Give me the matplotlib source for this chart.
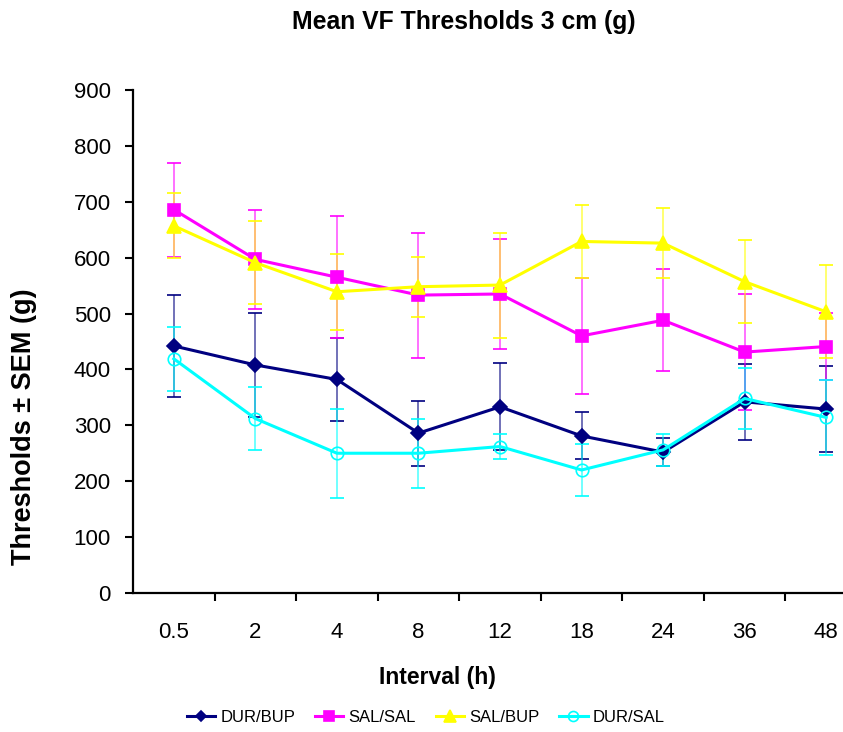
import matplotlib.pyplot as plt
import numpy as np

plt.rcParams['font.family'] = ['Liberation Sans', 'DejaVu Sans']

intervals = ['0.5', '2', '4', '8', '12', '18', '24', '36', '48']

dur_bup = [442, 408, 382, 286, 333, 281, 252, 342, 329]
dur_bup_sem = [92, 93, 75, 58, 78, 42, 25, 68, 77]

sal_sal = [686, 597, 565, 533, 535, 460, 488, 431, 441]
sal_sal_sem = [84, 88, 109, 112, 99, 104, 91, 104, 60]

sal_bup = [657, 591, 539, 548, 551, 629, 626, 557, 503]
sal_bup_sem = [58, 74, 68, 54, 94, 65, 63, 74, 83]

dur_sal = [419, 312, 250, 250, 262, 220, 256, 348, 314]
dur_sal_sem = [57, 56, 80, 62, 22, 46, 28, 54, 67]

fig = plt.figure(figsize=(8.43, 7.32), dpi=100)
ax = fig.add_axes([0.1578, 0.19, 0.8707, 0.687])

x = np.arange(len(intervals))

series = [
    ('DUR/BUP', dur_bup, dur_bup_sem, '#000080', 'D', 7, '#000080'),
    ('SAL/SAL', sal_sal, sal_sal_sem, '#ff00ff', 's', 9, '#ff00ff'),
    ('SAL/BUP', sal_bup, sal_bup_sem, '#ffff00', '^', 10, '#ffff00'),
    ('DUR/SAL', dur_sal, dur_sal_sem, '#00ffff', 'o', 9, 'none'),
]

handles = []
for name, vals, sem, col, mk, ms, face in series:
    eb = ax.errorbar(x, vals, yerr=sem, color=col, ecolor=col, elinewidth=1.3,
                     capsize=5, capthick=1.3, lw=2.2, marker=mk, ms=ms,
                     mfc=face, mec=col, mew=1.2, label=name)
    for b in eb[2]:
        b.set_alpha(0.6)
    handles.append(eb[0])

ax.set_xlim(-0.5, len(intervals) - 0.5)
ax.set_ylim(0, 900)
ax.set_yticks(range(0, 901, 100))

# category labels in the middle, tick marks between categories
ax.set_xticks(np.arange(0.5, len(intervals) - 0.5, 1))
ax.set_xticklabels([])
ax.set_xticks(x, minor=True)
ax.set_xticklabels(intervals, minor=True)
ax.tick_params(axis='x', which='major', direction='out', length=6, width=1.5)
ax.tick_params(axis='x', which='minor', length=0, pad=21, labelsize=16)
ax.tick_params(axis='y', direction='out', length=6, width=1.5, pad=10, labelsize=16)

for s in ['top', 'right']:
    ax.spines[s].set_visible(False)
for s in ['left', 'bottom']:
    ax.spines[s].set_linewidth(1.6)

ax.set_ylabel('Thresholds ± SEM (g)', fontsize=19.5, fontweight='bold')
ax.yaxis.set_label_coords(-0.131, 0.33)
ax.set_xlabel('Interval (h)', fontsize=16.5, fontweight='bold')
ax.xaxis.set_label_coords(0.415, -0.146)

fig.text(0.55, 0.97, 'Mean VF Thresholds 3 cm (g)', fontsize=17.8, fontweight='bold',
         ha='center', va='center')

fig.legend(handles, [s[0] for s in series], loc='center', bbox_to_anchor=(0.505, 0.02),
           ncol=4, frameon=False, fontsize=12, handlelength=1.7,
           columnspacing=1.2, handletextpad=0.3, markerscale=0.8)

fig.savefig('out.png', dpi=100)
